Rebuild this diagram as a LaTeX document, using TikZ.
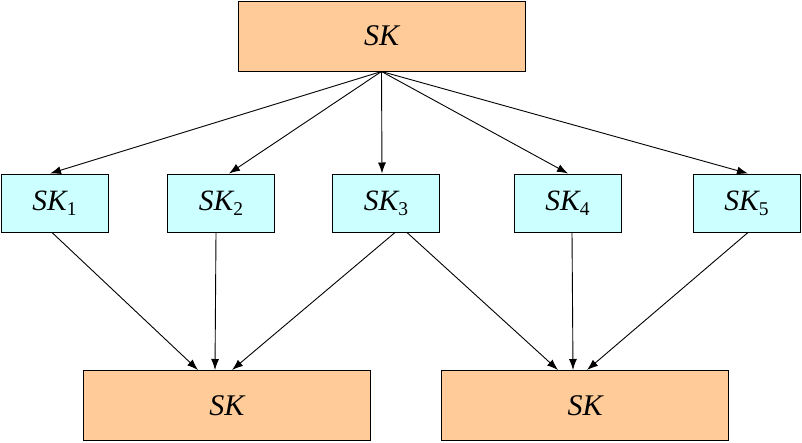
\documentclass[tikz,border=0pt]{standalone}
\usepackage{fontspec}
\setmainfont{Liberation Serif}
\usetikzlibrary{arrows.meta}
\definecolor{boxorange}{HTML}{FFCC99}
\definecolor{boxcyan}{HTML}{CCFFFF}
\newcommand{\bigsk}{\fontsize{30}{34}\selectfont\itshape SK}
\newcommand{\subsk}[1]{{\fontsize{29.5}{34}\selectfont\itshape SK}\raisebox{-5pt}{\fontsize{19.5}{22}\selectfont #1}}
\tikzset{
  bigbox/.style={draw=black, line width=1pt, fill=boxorange, minimum width=287pt, minimum height=70pt, inner sep=0pt},
  smallbox/.style={draw=black, line width=1pt, fill=boxcyan, minimum width=107pt, minimum height=58pt, inner sep=0pt},
  arr/.style={-{Latex[length=11pt,width=8pt]}, line width=0.9pt}
}
\begin{document}
\begin{tikzpicture}[x=1pt,y=-1pt]
\useasboundingbox (0,0) rectangle (802,442);
\node[bigbox] (top) at (381.5,36) {\bigsk};
\node[smallbox] (sk1) at (54.5,203) {\subsk{1}};
\node[smallbox] (sk2) at (221,203) {\subsk{2}};
\node[smallbox] (sk3) at (386,203) {\subsk{3}};
\node[smallbox] (sk4) at (567.5,203) {\subsk{4}};
\node[smallbox] (sk5) at (746.5,203) {\subsk{5}};
\node[bigbox] (botl) at (227,405.5) {\bigsk};
\node[bigbox] (botr) at (585,405.5) {\bigsk};
% top arrows
\draw[arr] (top.south) -- ([xshift=-4.5pt]sk1.north);
\draw[arr] (top.south) -- ([xshift=8pt]sk2.north);
\draw[arr] (top.south) -- ([xshift=-4pt]sk3.north);
\draw[arr] (top.south) -- ([xshift=0.5pt]sk4.north);
\draw[arr] (top.south) -- ([xshift=1.5pt]sk5.north);
% bottom arrows
\draw[arr] ([xshift=-2.5pt]sk1.south) -- ([xshift=-29pt]botl.north);
\draw[arr] ([xshift=-5pt]sk2.south) -- ([xshift=-12pt]botl.north);
\draw[arr] ([xshift=9pt]sk3.south) -- ([xshift=5pt]botl.north);
\draw[arr] ([xshift=21pt]sk3.south) -- ([xshift=-27pt]botr.north);
\draw[arr] ([xshift=4.5pt]sk4.south) -- ([xshift=-12pt]botr.north);
\draw[arr] ([xshift=1.5pt]sk5.south) -- ([xshift=2pt]botr.north);
\end{tikzpicture}
\end{document}
